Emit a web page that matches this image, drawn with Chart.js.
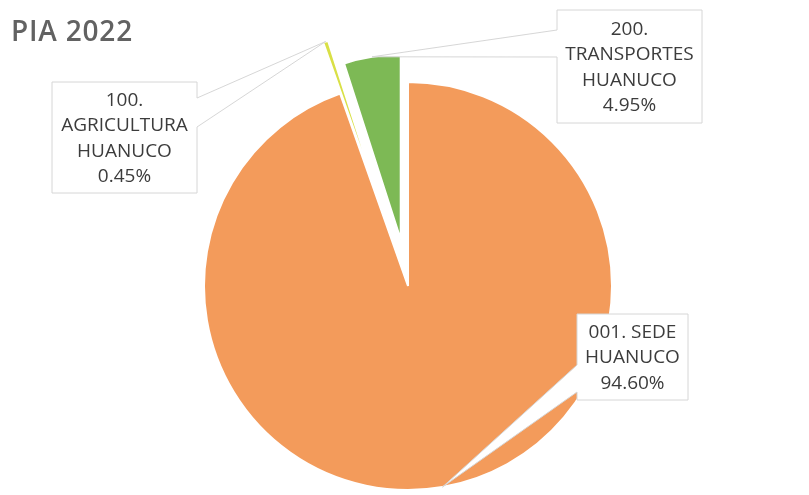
<!DOCTYPE html>
<html>
<head>
<meta charset="utf-8">
<script src="https://cdn.jsdelivr.net/npm/chart.js@4.4.1/dist/chart.umd.min.js"></script>
<style>
  html, body { margin: 0; padding: 0; background: #fff; }
  #pie { display: block; }
</style>
</head>
<body>
<canvas id="pie" width="809" height="495"></canvas>
<script>
const chartTitle = 'PIA 2022';
const categories = ['001. SEDE HUANUCO', '100. AGRICULTURA HUANUCO', '200. TRANSPORTES HUANUCO'];
const shares = [94.60, 0.45, 4.95];
const colors = ['#F39B5B', '#D9E046', '#7DB955'];
const explode = [0, 73, 47];

// callout boxes: [left, top, right, bottom], side the pointer leaves from, pointer base y
const callouts = [
    { box: [577, 314, 688, 400], side: 'left', base: [365, 392] },
    { box: [52, 82, 197, 193], side: 'right', base: [98, 127] },
    { box: [557, 10, 702, 123], side: 'left', base: [30, 57] }
];
const FONT = '19px "Open Sans", sans-serif';

function wrap(ctx, text, maxW) {
    const words = text.split(' ');
    const lines = [];
    let cur = '';
    words.forEach(w => {
        const t = cur ? cur + ' ' + w : w;
        if (cur && ctx.measureText(t).width > maxW) {
            lines.push(cur);
            cur = w;
        } else {
            cur = t;
        }
    });
    if (cur) lines.push(cur);
    return lines;
}

const calloutPlugin = {
    id: 'callouts',
    afterDatasetsUpdate(chart) {
        // pull the small slices out of the pie (and draw them a bit smaller, as in the original)
        const arcs = chart.getDatasetMeta(0).data;
        arcs.forEach((a, i) => {
            if (!explode[i]) return;
            const mid = (a.startAngle + a.endAngle) / 2;
            a.x += Math.cos(mid) * explode[i];
            a.y += Math.sin(mid) * explode[i];
            a.outerRadius = 185;
        });
    },
    afterDatasetsDraw(chart) {
        const ctx = chart.ctx;
        const arcs = chart.getDatasetMeta(0).data;
        ctx.save();
        ctx.fillStyle = '#626262';
        ctx.font = '600 28px "Open Sans", sans-serif';
        ctx.letterSpacing = '0.8px';
        ctx.textBaseline = 'alphabetic';
        ctx.fillText(chartTitle, 11, 41);
        ctx.letterSpacing = '0px';

        arcs.forEach((arc, i) => {
            const c = callouts[i];
            const mid = (arc.startAngle + arc.endAngle) / 2;
            const tx = arc.x + Math.cos(mid) * arc.outerRadius;
            const ty = arc.y + Math.sin(mid) * arc.outerRadius;
            const [l, t, rr, b] = c.box;
            ctx.beginPath();
            if (c.side === 'left') {
                ctx.moveTo(l, t);
                ctx.lineTo(rr, t);
                ctx.lineTo(rr, b);
                ctx.lineTo(l, b);
                ctx.lineTo(l, c.base[1]);
                ctx.lineTo(tx, ty);
                ctx.lineTo(l, c.base[0]);
            } else {
                ctx.moveTo(l, t);
                ctx.lineTo(rr, t);
                ctx.lineTo(rr, c.base[0]);
                ctx.lineTo(tx, ty);
                ctx.lineTo(rr, c.base[1]);
                ctx.lineTo(rr, b);
                ctx.lineTo(l, b);
            }
            ctx.closePath();
            ctx.fillStyle = '#ffffff';
            ctx.fill();
            ctx.strokeStyle = '#d6d6d6';
            ctx.lineWidth = 1;
            ctx.stroke();

            ctx.font = FONT;
            const lines = wrap(ctx, categories[i], rr - l - 12);
            lines.push(shares[i].toFixed(2) + '%');
            const lh = 25.5;
            const cy = (t + b) / 2;
            ctx.fillStyle = '#3c3c3c';
            ctx.textAlign = 'center';
            ctx.textBaseline = 'middle';
            lines.forEach((s, k) => {
                ctx.fillText(s, (l + rr) / 2, cy + (k - (lines.length - 1) / 2) * lh + 1);
            });
        });
        ctx.restore();
    }
};

new Chart(document.getElementById('pie'), {
    type: 'pie',
    data: {
        labels: categories,
        datasets: [{
            data: shares,
            backgroundColor: colors,
            borderColor: '#ffffff',
            borderWidth: 2,
            radius: 204,
            clip: false
        }]
    },
    options: {
        responsive: false,
        animation: false,
        events: [],
        layout: { padding: { left: 7, top: 77, right: 0, bottom: 0 } },
        plugins: {
            legend: { display: false },
            tooltip: { enabled: false }
        }
    },
    plugins: [calloutPlugin]
});
</script>
</body>
</html>
